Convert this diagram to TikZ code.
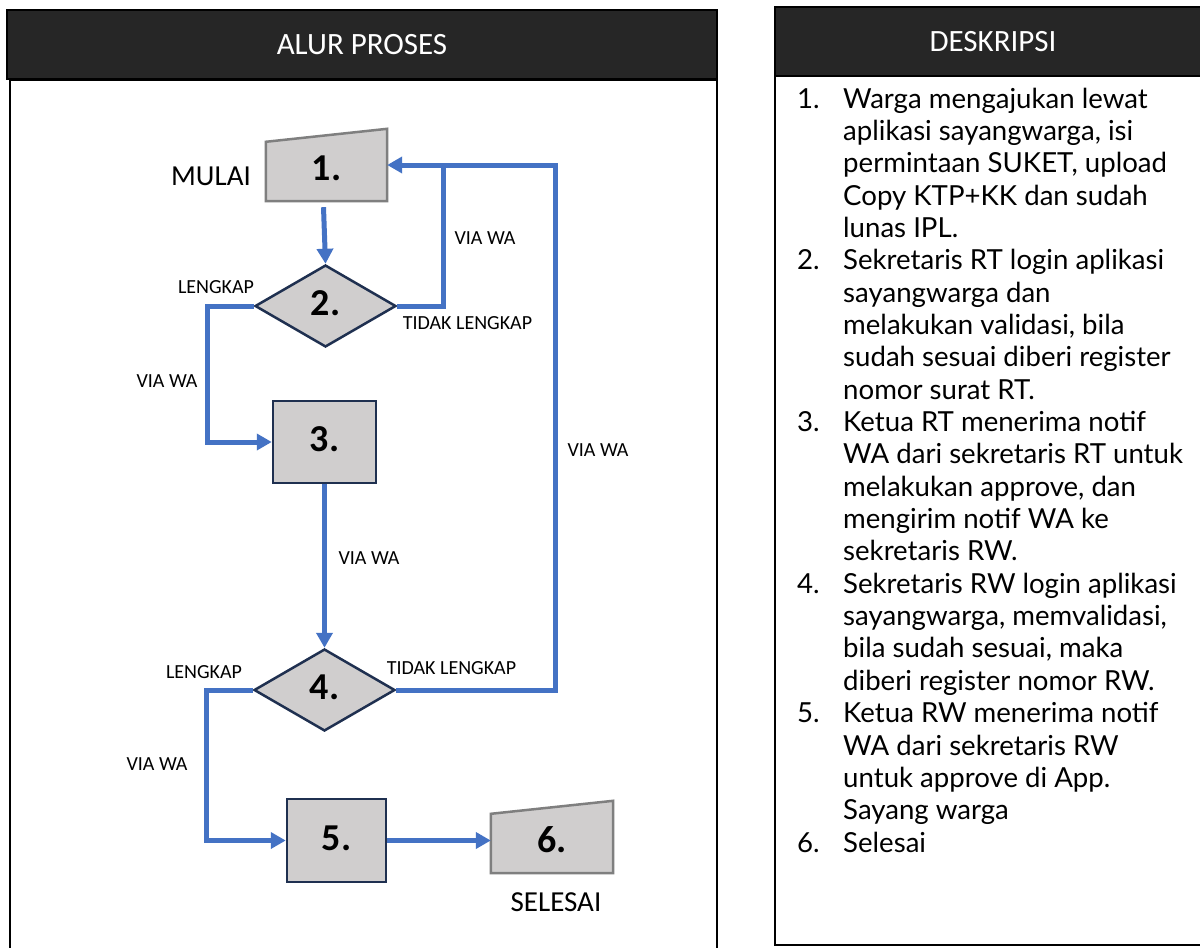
\documentclass[tikz,border=0pt]{standalone}
\usepackage{fontspec}
\setmainfont{Carlito}
\newfontfamily\descfont{Lato}
\usetikzlibrary{shapes.geometric,arrows.meta,backgrounds}
\definecolor{flowblue}{HTML}{4472C4}
\definecolor{boxgray}{HTML}{D0CECE}
\definecolor{navyline}{HTML}{1F3050}
\definecolor{trapgray}{HTML}{7F7F7F}
\definecolor{headfill}{HTML}{262626}
\begin{document}
\begin{tikzpicture}[x=1pt,y=-1pt,
  panel/.style={draw=black,line width=2.5pt},
  header/.style={draw=black,line width=2.5pt,fill=headfill,text=white,
    font=\fontsize{31}{36}\selectfont,inner sep=0pt},
  numfont/.style={font=\bfseries\fontsize{38}{40}\selectfont},
  procbox/.style={rectangle,draw=navyline,line width=2.5pt,fill=boxgray,numfont,
    text height=19pt,text depth=0pt,inner sep=0pt},
  decision/.style={diamond,draw=navyline,line width=2.5pt,fill=boxgray,numfont,
    text height=19pt,text depth=0pt,inner sep=0pt,minimum width=141pt,minimum height=82pt},
  trapnode/.style={rectangle,numfont,text height=30pt,text depth=0pt,inner sep=0pt,
    minimum width=121pt,minimum height=72pt},
  trapline/.style={draw=trapgray,line width=2.5pt,fill=boxgray},
  flow/.style={draw=flowblue,line width=5pt},
  arr/.style={flow,-{Triangle[length=15pt,width=16pt]}},
  lbl/.style={font=\fontsize{20}{24}\selectfont,anchor=base,inner sep=0pt},
  biglbl/.style={font=\fontsize{29}{34}\selectfont,anchor=base,inner sep=0pt},
  desc/.style={font=\descfont\fontsize{27.6}{32.35}\selectfont,anchor=base west,inner sep=0pt}
]
\useasboundingbox (0,0) rectangle (1200,948);

% panels
\draw[panel] (10,80) rectangle (717,970);
\node[header,minimum width=710pt,minimum height=69pt] (h1) at (362,44.5) {ALUR PROSES};
\draw[panel] (775,76) rectangle (1230,945);
\node[header,minimum width=436pt,minimum height=69pt] (h2) at (993,41.5) {DESKRIPSI};

% flow nodes
\node[trapnode] (n1) at (326.5,165) {1.};
\node[decision] (n2) at (325.5,306) {2.};
\node[procbox,minimum width=103pt,minimum height=82pt] (n3) at (324.5,442) {3.};
\node[decision] (n4) at (324.5,690) {4.};
\node[procbox,minimum width=99pt,minimum height=83pt] (n5) at (336.5,840.5) {5.};
\node[trapnode,minimum width=122pt] (n6) at (552,837) {6.};

\begin{pgfonlayer}{background}
\fill[white] (0,0) rectangle (1200,948);
\draw[trapline] ([yshift=-13pt]n1.north west) -- (n1.north east) -- (n1.south east) -- (n1.south west) -- cycle;
\draw[trapline] ([yshift=-13pt]n6.north west) -- (n6.north east) -- (n6.south east) -- (n6.south west) -- cycle;
\end{pgfonlayer}

% junction coordinates
\coordinate (j1) at (443,165);
\coordinate (j2) at (555,165);
\coordinate (j3) at (207,442);
\coordinate (j4) at (206,840.5);

% connectors
\draw[arr] ([shift={(-3,6)}]n1.south) -- (n2.north);
\draw[flow] (n4.east) -| (j2) -- (j1);
\draw[arr] (n2.east) -| (j1) -- (n1.east);
\draw[arr] (n2.west) -| (j3) -- (n3.west);
\draw[arr] (n3.south) -- (n4.north);
\draw[arr] (n4.west) -| (j4) -- (n5.west);
\draw[arr] (n5.east) -- (n5.east -| n6.west);

% labels
\node[biglbl] (lmulai) at (211,185) {MULAI};
\node[biglbl] (lselesai) at (556,911) {SELESAI};
\node[lbl] (v1) at (485,244) {VIA WA};
\node[lbl] (lk1) at (216,293) {LENGKAP};
\node[lbl] (tl1) at (467.5,329) {TIDAK LENGKAP};
\node[lbl] (v2) at (167,387) {VIA WA};
\node[lbl] (v3) at (598,456) {VIA WA};
\node[lbl] (v4) at (369,564) {VIA WA};
\node[lbl] (lk2) at (204,678) {LENGKAP};
\node[lbl] (tl2) at (451.5,674) {TIDAK LENGKAP};
\node[lbl] (v5) at (157,770) {VIA WA};

% description
\node[desc] (k1) at (797,108) {1.};
\node[desc] (d1) at (843,108) {\parbox[t]{380pt}{Warga mengajukan lewat\\aplikasi sayangwarga, isi\\permintaan SUKET, upload\\Copy KTP+KK dan sudah\\lunas IPL.}};
\node[desc] (k2) at (797,269.75) {2.};
\node[desc] (d2) at (843,269.75) {\parbox[t]{380pt}{Sekretaris RT login aplikasi\\sayangwarga dan\\melakukan validasi, bila\\sudah sesuai diberi register\\nomor surat RT.}};
\node[desc] (k3) at (797,431.5) {3.};
\node[desc] (d3) at (843,431.5) {\parbox[t]{380pt}{Ketua RT menerima notif\\WA dari sekretaris RT untuk\\melakukan approve, dan\\mengirim notif WA ke\\sekretaris RW.}};
\node[desc] (k4) at (797,593.25) {4.};
\node[desc] (d4) at (843,593.25) {\parbox[t]{380pt}{Sekretaris RW login aplikasi\\sayangwarga, memvalidasi,\\bila sudah sesuai, maka\\diberi register nomor RW.}};
\node[desc] (k5) at (797,722.65) {5.};
\node[desc] (d5) at (843,722.65) {\parbox[t]{380pt}{Ketua RW menerima notif\\WA dari sekretaris RW\\untuk approve di App.\\Sayang warga}};
\node[desc] (k6) at (797,852.05) {6.};
\node[desc] (d6) at (843,852.05) {Selesai};
\end{tikzpicture}
\end{document}
